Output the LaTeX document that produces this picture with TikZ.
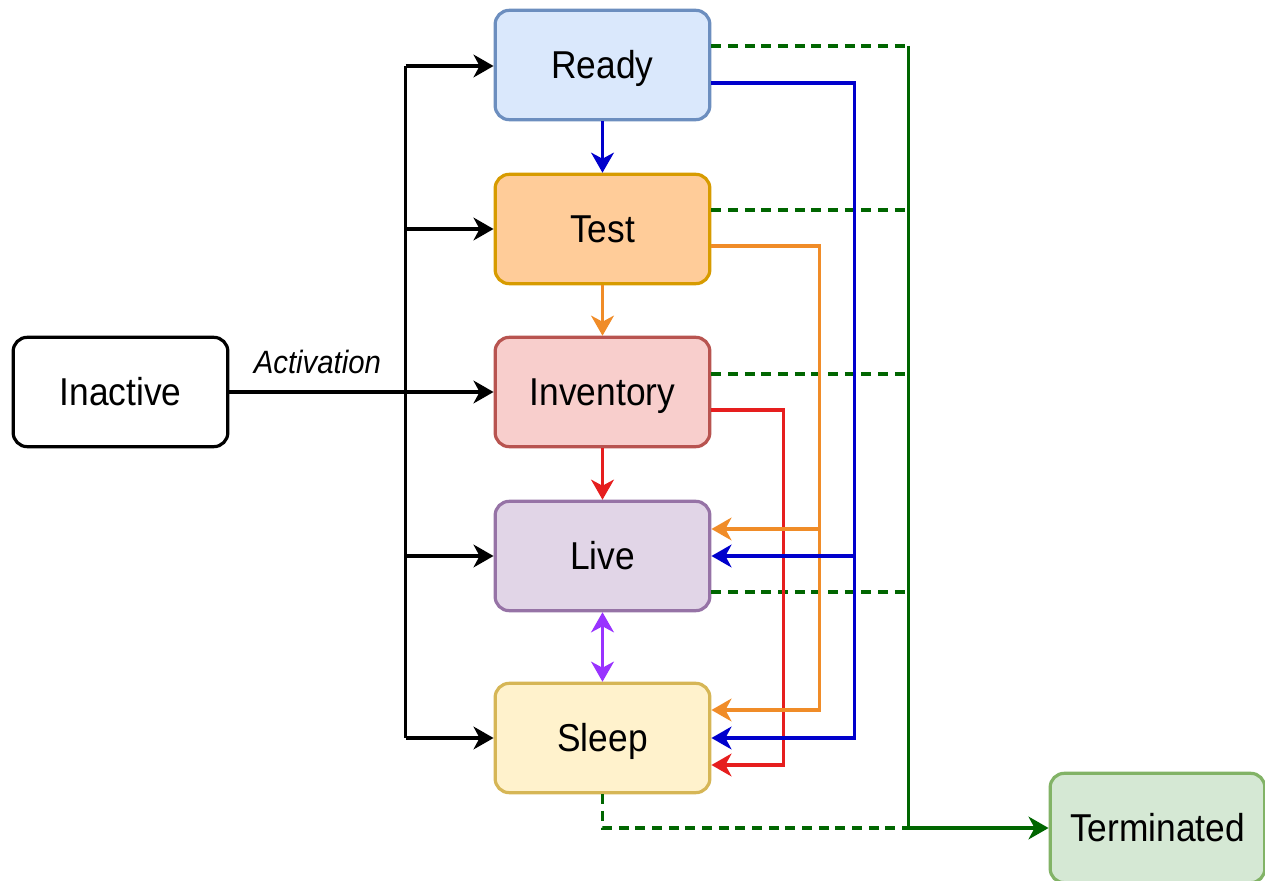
\documentclass[tikz,border=0pt]{standalone}
\usepackage{fontspec}
\setmainfont{Liberation Sans}
\usepackage{graphicx}
\usetikzlibrary{arrows.meta,calc}
\definecolor{readyF}{HTML}{DAE8FC}\definecolor{readyD}{HTML}{6C8EBF}
\definecolor{testF}{HTML}{FFCC99}\definecolor{testD}{HTML}{D79B00}
\definecolor{invF}{HTML}{F8CECC}\definecolor{invD}{HTML}{B85450}
\definecolor{liveF}{HTML}{E1D5E7}\definecolor{liveD}{HTML}{9673A6}
\definecolor{sleepF}{HTML}{FFF2CC}\definecolor{sleepD}{HTML}{D6B656}
\definecolor{termF}{HTML}{D5E8D4}\definecolor{termD}{HTML}{82B366}
\definecolor{cblue}{HTML}{0000CC}
\definecolor{corange}{HTML}{F08C28}
\definecolor{cred}{HTML}{E61E1E}
\definecolor{cpurple}{HTML}{9933FF}
\definecolor{cgreen}{HTML}{006600}
\newcommand\vstr[1]{\scalebox{1}[1.1]{#1}}
\begin{document}
\begin{tikzpicture}[x=0.75pt,y=-0.75pt,
  state/.style={draw, rounded corners=10.5pt, line width=2.4pt,
    minimum width=161pt, minimum height=82pt, inner sep=0pt,
    text height=20.5pt, text depth=0pt,
    font=\fontsize{26.5}{30}\selectfont},
  arrowtip/.style={-{Stealth[length=15pt,width=17pt,inset=4.5pt]}},
  wire/.style={line width=2.7pt},
  conn/.style={wire, arrowtip},
  gdash/.style={wire, cgreen, dash pattern=on 7.5pt off 5pt},
  lbl/.style={font=\itshape\fontsize{22}{26}\selectfont}]
\useasboundingbox (0,0) rectangle (1265,881);

\node[state, fill=readyF, draw=readyD] (Ready) at (602.5,65) {\vstr{Ready}};
\node[state, fill=testF, draw=testD] (Test) at (602.5,229) {\vstr{Test}};
\node[state, fill=invF, draw=invD] (Inventory) at (602.5,392) {\vstr{Inventory}};
\node[state, fill=liveF, draw=liveD] (Live) at (602.5,556) {\vstr{Live}};
\node[state, fill=sleepF, draw=sleepD] (Sleep) at (602.5,738) {\vstr{Sleep}};
\node[state, fill=white, draw=black] (Inactive) at (120.5,392) {\vstr{Inactive}};
\node[state, fill=termF, draw=termD] (Terminated) at (1157.5,828) {\vstr{Terminated}};

% green collector
\coordinate (gTop) at ($(Ready.east)+(197,-19)$);
\draw[gdash] ($(Ready.east)+(0,-19)$) -- (gTop);
\draw[gdash] ($(Test.east)+(0,-19)$) -- ++(197,0);
\draw[gdash] ($(Inventory.east)+(0,-18)$) -- ++(197,0);
\draw[gdash] ($(Live.east)+(0,36)$) -- ++(197,0);
\draw[gdash] (Sleep.south) |- (gTop |- Terminated.west);
\draw[conn, cgreen] (gTop) |- (Terminated.west);

% red
\draw[conn, cred] ($(Inventory.east)+(0,18)$) -- ++(72,0) |- ($(Sleep.east)+(0,27)$);
% orange
\draw[conn, corange] ($(Test.east)+(0,17)$) -- ++(108,0) coordinate (oB) |- ($(Sleep.east)+(0,-28)$);
\coordinate (oL) at ($(Live.east)+(0,-27)$);
\draw[conn, corange] (oL -| oB) -- (oL);
% blue
\draw[conn, cblue] ($(Ready.east)+(0,18)$) -- ++(143,0) coordinate (bB) |- (Sleep.east);
\draw[conn, cblue] (Live.east -| bB) -- (Live.east);

% vertical chain
\draw[conn, cblue] (Ready) -- (Test);
\draw[conn, corange] (Test) -- (Inventory);
\draw[conn, cred] (Inventory) -- (Live);
\draw[wire, cpurple, {Stealth[length=15pt,width=17pt,inset=4.5pt]}-{Stealth[length=15pt,width=17pt,inset=4.5pt]}] (Live) -- (Sleep);

% black bus
\coordinate (bus) at ($(Ready.west)+(-88,1)$);
\draw[wire] (bus) -- (bus |- Sleep.west);
\draw[conn] (bus) -- (bus -| Ready.west);
\draw[conn] (bus |- Test.west) -- (Test.west);
\draw[conn] (bus |- Live.west) -- (Live.west);
\draw[conn] (bus |- Sleep.west) -- (Sleep.west);
\draw[conn] (Inactive) -- node[pos=0.333, yshift=22.5pt, lbl] {\vstr{Activation}} (Inventory);
\end{tikzpicture}
\end{document}
